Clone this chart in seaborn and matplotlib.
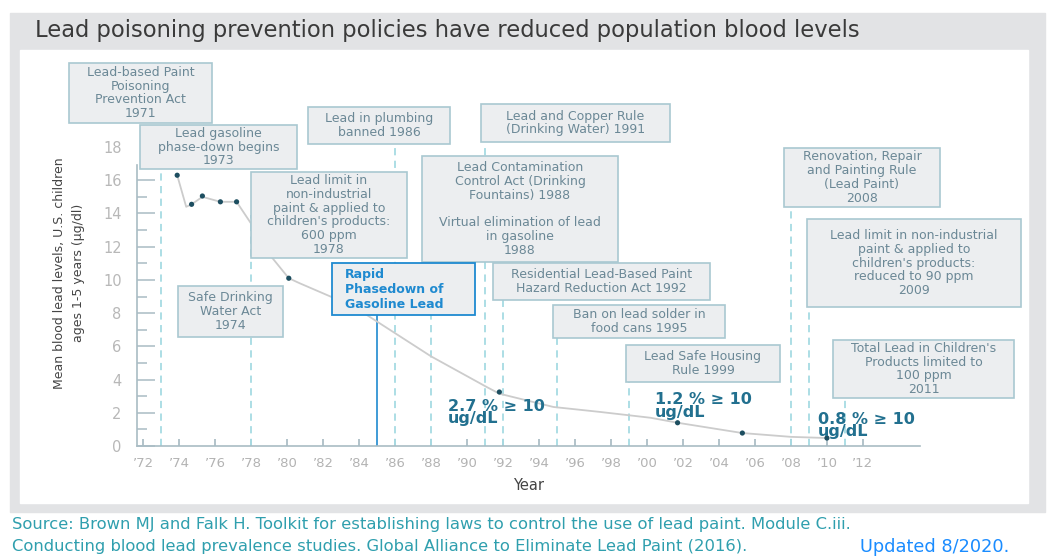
import numpy as np
import pandas as pd
import matplotlib
matplotlib.use("Agg")
import matplotlib.pyplot as plt
from matplotlib.patches import Rectangle
import seaborn as sns

# measured survey means (dots)
point_years = [1973.9, 1974.7, 1975.3, 1976.3, 1977.2, 1978.6, 1980.1, 1991.8, 2001.7, 2005.3, 2010.0]
point_values = [16.3, 14.55, 15.05, 14.7, 14.7, 12.1, 10.1, 3.25, 1.4, 0.78, 0.48]

# trend curve
curve_years = [1973.9, 1974.4, 1974.7, 1975.3, 1976.3, 1977.2, 1978.0, 1978.6, 1980.1, 1980.7,
               1983.7, 1988.0, 1991.1, 1991.8, 1994.8, 1997.4, 2000.2, 2001.7, 2005.3, 2008.0, 2010.0]
curve_values = [16.3, 14.4, 14.55, 15.0, 14.7, 14.7, 13.4, 12.1, 10.1, 9.8,
                8.4, 5.4, 3.55, 3.15, 2.35, 2.05, 1.7, 1.4, 0.78, 0.55, 0.48]

# policy milestones with dashed markers (line runs up into its box)
policy_years = [1973, 1978, 1986, 1988, 1991, 1992, 1995, 1999, 2008, 2009, 2011]
policy_tops = [18.0, 13.9, 19.3, 14.3, 19.4, 9.9, 7.5, 5.0, 16.2, 11.0, 4.6]
gas_year, gas_top = 1985, 9.4

policy_labels = [
    "Lead-based Paint\nPoisoning\nPrevention Act\n1971",
    "Lead gasoline\nphase-down begins\n1973",
    "Lead limit in\nnon-industrial\npaint & applied to\nchildren's products:\n600 ppm\n1978",
    "Safe Drinking\nWater Act\n1974",
    "Lead in plumbing\nbanned 1986",
    "Lead and Copper Rule\n(Drinking Water) 1991",
    "Lead Contamination\nControl Act (Drinking\nFountains) 1988\n\nVirtual elimination of lead\nin gasoline\n1988",
    "Residential Lead-Based Paint\nHazard Reduction Act 1992",
    "Ban on lead solder in\nfood cans 1995",
    "Lead Safe Housing\nRule 1999",
    "Renovation, Repair\nand Painting Rule\n(Lead Paint)\n2008",
    "Lead limit in non-industrial\npaint & applied to\nchildren's products:\nreduced to 90 ppm\n2009",
    "Total Lead in Children's\nProducts limited to\n100 ppm\n2011",
]
# box extents in pixels (left, right, top, bottom)
label_boxes = [(69, 212, 63, 123), (140, 297, 125, 169), (251, 407, 172, 258), (178, 283, 286, 337),
               (308, 450, 107, 144), (481, 670, 104, 142), (422, 618, 156, 262), (493, 710, 263, 300),
               (553, 725, 305, 338), (626, 780, 345, 382), (784, 940, 148, 207), (807, 1021, 219, 307),
               (833, 1014, 340, 398)]
gas_label = "Rapid\nPhasedown of\nGasoline Lead"
gas_box = (332, 475, 263, 315)

pct_labels = ["2.7 % \u2265 10\nug/dL", "1.2 % \u2265 10\nug/dL", "0.8 % \u2265 10\nug/dL"]
pct_pos = [(1988.95, 2.0), (2000.45, 2.4), (2009.5, 1.25)]

x_ticks = list(range(1972, 2013, 2))
x_ticklabels = ["\u2019%02d" % (y % 100) for y in x_ticks]
y_ticks = list(range(0, 19, 2))

sns.set_theme(style="white")
plt.rcParams["font.family"] = ["DejaVu Sans"]

W, H = 1050, 560
fig = plt.figure(figsize=(W / 100, H / 100), dpi=100)


def fx(px):
    return px / W


def fy(py):
    return 1 - py / H


fig.patches.append(Rectangle((fx(10), fy(512)), 1035 / W, 499 / H,
                             transform=fig.transFigure, color="#e2e3e5", zorder=-2))
fig.patches.append(Rectangle((fx(20), fy(503)), 1008 / W, 453 / H,
                             transform=fig.transFigure, color="white", zorder=-1))

ax = fig.add_axes([fx(137), fy(446), 783 / W, 299 / H])
ax.set_facecolor("none")
ax.set_zorder(2)

curve = pd.DataFrame({"year": curve_years, "value": curve_values})
points = pd.DataFrame({"year": point_years, "value": point_values})
sns.lineplot(data=curve, x="year", y="value", ax=ax, color="#cccccc", lw=1.3, zorder=3)
sns.scatterplot(data=points, x="year", y="value", ax=ax, color="#1d4e60", s=14,
                edgecolor="none", zorder=4)

ax.vlines(policy_years, 0, policy_tops, colors="#a6dbe3", linestyles=(0, (4, 3)), lw=1.3, zorder=1)
ax.vlines([gas_year], 0, gas_top, colors="#1f8ad0", lw=1.2, zorder=1)

ax.set_xlim(1971.667, 2015.17)
ax.set_ylim(0, 18)
ax.set_xticks(x_ticks)
ax.set_xticklabels(x_ticklabels)
ax.set_yticks(y_ticks)
ax.set_yticks(list(range(1, 16, 2)), minor=True)
spine_c = "#a9bcc4"
for s in ["top", "right"]:
    ax.spines[s].set_visible(False)
for s in ["left", "bottom"]:
    ax.spines[s].set_color(spine_c)
    ax.spines[s].set_linewidth(1.2)
ax.spines["left"].set_bounds(0, 16.9)
ax.tick_params(axis="x", direction="in", length=5, color=spine_c, labelsize=9.5,
               labelcolor="#b3b3b3", pad=8, bottom=True)
ax.tick_params(axis="y", which="major", direction="in", length=13, width=1.1, color=spine_c,
               labelsize=10.5, labelcolor="#b8b8b8", pad=11, left=True)
ax.tick_params(axis="y", which="minor", direction="in", length=7, width=1.1, color=spine_c, left=True)
ax.yaxis.get_major_ticks()[-1].tick1line.set_visible(False)
ax.set_xlabel("Year", fontsize=10.5, color="#444444", labelpad=6)
ax.set_ylabel("Mean blood lead levels, U.S. children\nages 1-5 years (\u03bcg/dl)", fontsize=9,
              color="#444444", linespacing=1.6)
ax.yaxis.set_label_coords(-0.066, 0.578)

box_fc, box_ec = "#eceef0", "#a9c8d1"
for txt, (l, r, t, b) in zip(policy_labels, label_boxes):
    ax.add_patch(Rectangle((fx(l), fy(b)), (r - l) / W, (b - t) / H, transform=fig.transFigure,
                           fc=box_fc, ec=box_ec, lw=1.2, zorder=5, clip_on=False))
    ax.text(fx((l + r) / 2), fy((t + b) / 2), txt, transform=fig.transFigure, ha="center",
            va="center", fontsize=9, color="#6b8896", linespacing=1.08, zorder=6)

l, r, t, b = gas_box
ax.add_patch(Rectangle((fx(l), fy(b)), (r - l) / W, (b - t) / H, transform=fig.transFigure,
                       fc=box_fc, ec="#1f8ad0", lw=1.3, zorder=5, clip_on=False))
ax.text(fx(l + 13), fy((t + b) / 2), gas_label, transform=fig.transFigure, ha="left", va="center",
        fontsize=9, fontweight="bold", color="#1f8ad0", linespacing=1.2, zorder=6)

for txt, (x, y) in zip(pct_labels, pct_pos):
    ax.text(x, y, txt, ha="left", va="center", fontsize=11.5, fontweight="bold",
            color="#22708f", linespacing=0.78, zorder=6)

fig.text(fx(35), fy(30), "Lead poisoning prevention policies have reduced population blood levels",
         ha="left", va="center", fontsize=16.3, color="#3a3a3a")
src_c = "#2f9fae"
fig.text(fx(12), fy(525),
         "Source: Brown MJ and Falk H. Toolkit for establishing laws to control the use of lead paint. Module C.iii.",
         ha="left", va="center", fontsize=11.8, color=src_c)
fig.text(fx(12), fy(547),
         "Conducting blood lead prevalence studies. Global Alliance to Eliminate Lead Paint (2016).",
         ha="left", va="center", fontsize=11.8, color=src_c)
fig.text(fx(860), fy(547), "Updated 8/2020.", ha="left", va="center", fontsize=12.8, color="#1a8cff")

fig.savefig("out.png", dpi=100)
